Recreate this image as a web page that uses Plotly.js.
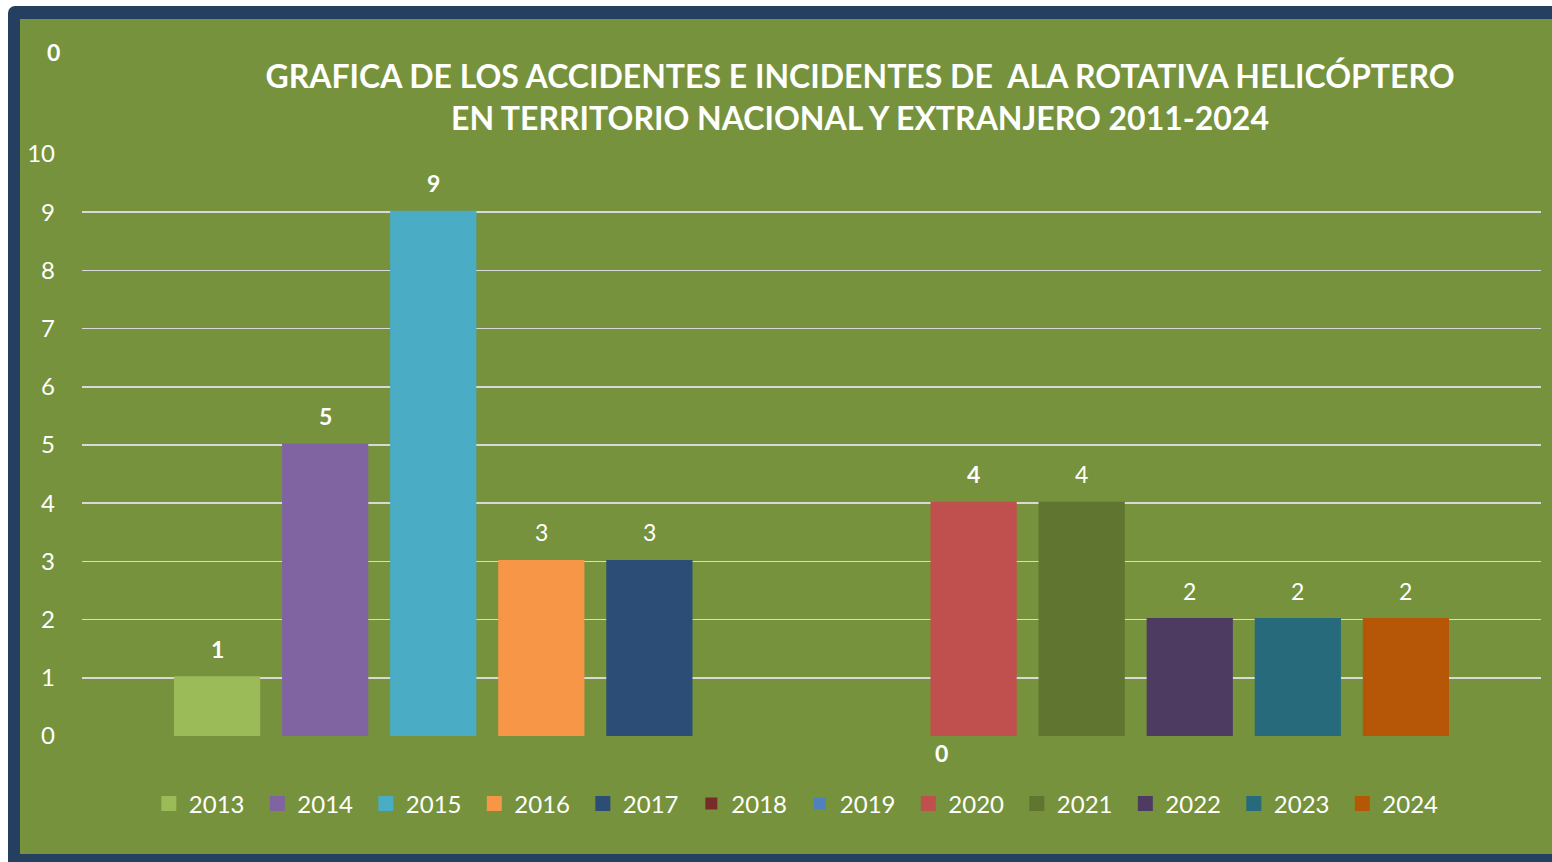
<!DOCTYPE html>
<html>
<head>
<meta charset="utf-8">
<script src="https://cdn.plot.ly/plotly-3.0.1.min.js"></script>
<style>
  html, body { margin: 0; padding: 0; background: #ffffff; width: 1552px; height: 862px; overflow: hidden; }
  #frame { position: absolute; left: 8px; top: 6px; width: 1560px; height: 870px; background: #243F60; border-radius: 7px 0 0 0; }
  #chart { position: absolute; left: 20px; top: 19px; width: 1532px; height: 835px; }
</style>
</head>
<body>
<div id="frame"></div>
<div id="chart"></div>
<script>
const years = ['2013','2014','2015','2016','2017','2018','2019','2020','2021','2022','2023','2024'];
const values = [1, 5, 9, 3, 3, 0, 0, 4, 4, 2, 2, 2];
const showLabel = [true, true, true, true, true, false, false, true, true, true, true, true];
const labelBold = [true, true, true, false, false, false, false, true, false, false, false, false];
const colors = ['#9BBB59','#8064A2','#4BACC6','#F79646','#2C4D75','#772C2A','#4F81BD','#C0504D','#5F7530','#4D3B62','#276A7C','#B65708'];
const yTicks = [0,1,2,3,4,5,6,7,8,9,10];
const titleText = 'GRAFICA DE LOS ACCIDENTES E INCIDENTES DE  ALA ROTATIVA HELICÓPTERO<br>EN TERRITORIO NACIONAL Y EXTRANJERO 2011-2024';

const FONT = 'Lato, "Open Sans", sans-serif';

const traces = years.map((yr, i) => ({
  type: 'bar',
  name: yr,
  x: [i],
  y: [values[i]],
  width: values[i] > 0 ? 0.77 : 0.8,
  marker: { color: colors[i], line: { width: values[i] > 0 ? 3 : 0, color: colors[i] } },
  hoverinfo: 'y'
}));

const annotations = [];
years.forEach((yr, i) => {
  if (!showLabel[i]) return;
  annotations.push({
    x: i, y: values[i], xref: 'x', yref: 'y',
    text: labelBold[i] ? '<b>' + values[i] + '</b>' : String(values[i]),
    showarrow: false, yanchor: 'bottom', yshift: 13,
    font: { family: FONT, size: 23, color: '#ffffff' }
  });
});
// zero label below axis
annotations.push({
  x: 6.7, y: 0, xref: 'x', yref: 'y', text: '<b>0</b>', showarrow: false,
  yanchor: 'top', yshift: -1, font: { family: FONT, size: 23, color: '#ffffff' }
});
// stray zero label top-left
annotations.push({
  x: (53 - 82) / 1459, y: 10, xref: 'paper', yref: 'y', text: '<b>0</b>', showarrow: false,
  xanchor: 'center', yanchor: 'middle', yshift: 102,
  font: { family: FONT, size: 23, color: '#ffffff' }
});

const layout = {
  width: 1532, height: 835,
  paper_bgcolor: '#77923C',
  plot_bgcolor: '#77923C',
  margin: { l: 62, r: 11, t: 135, b: 118 },
  title: {
    text: titleText,
    xref: 'container', yref: 'container',
    x: 840 / 1532, xanchor: 'center',
    y: 1 - 69 / 835, yanchor: 'top',
    font: { family: FONT, size: 32, color: '#ffffff', weight: 'bold' }
  },
  barmode: 'overlay',
  xaxis: {
    range: [-1.25, 12.25],
    showticklabels: false, showgrid: false, zeroline: false, showline: false, ticks: ''
  },
  yaxis: {
    range: [0, 10],
    tickvals: yTicks,
    showgrid: true, gridcolor: '#D9D9D9', gridwidth: 1.5,
    zeroline: false, showline: false, ticks: '',
    ticklabelstandoff: 26,
    tickfont: { family: FONT, size: 24, color: '#ffffff' }
  },
  showlegend: true,
  legend: {
    orientation: 'h',
    x: 0.492, xanchor: 'center', xref: 'paper',
    y: -0.078, yanchor: 'top',
    bgcolor: 'rgba(0,0,0,0)',
    entrywidth: 63.5, entrywidthmode: 'pixels',
    font: { family: FONT, size: 24, color: '#ffffff' },
    traceorder: 'normal'
  },
  annotations: annotations,
  font: { family: FONT, color: '#ffffff' }
};

Plotly.newPlot('chart', traces, layout, { displayModeBar: false, staticPlot: true });
</script>
</body>
</html>
